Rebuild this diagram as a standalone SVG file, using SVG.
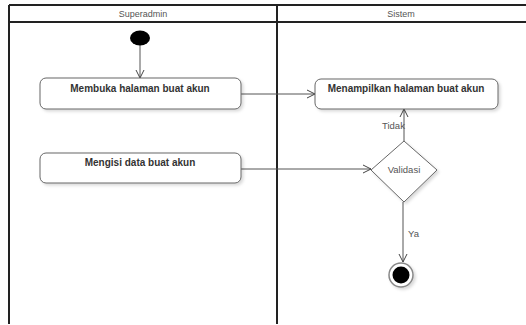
<svg xmlns="http://www.w3.org/2000/svg" width="526" height="325" viewBox="0 0 526 325">
<defs>
<marker id="arr" markerWidth="10" markerHeight="10" refX="9" refY="5" orient="auto" markerUnits="userSpaceOnUse">
<path d="M1,1 L9,5 L1,9" fill="none" stroke="#444" stroke-width="1"/>
</marker>
<filter id="sh" x="-10%" y="-10%" width="130%" height="150%">
<feDropShadow dx="2" dy="2" stdDeviation="1.5" flood-color="#000" flood-opacity="0.15"/>
</filter>
</defs>
<style>
.lane{fill:none;stroke:#222;stroke-width:2}
.hdr{font-family:"Liberation Sans",Arial,sans-serif;font-size:9px;fill:#555;text-anchor:middle}
.act{fill:#fff;stroke:#666;stroke-width:1;filter:url(#sh)}
.at{font-family:"Liberation Sans",Arial,sans-serif;font-size:10px;font-weight:bold;fill:#333;text-anchor:middle}
.con{fill:none;stroke:#555;stroke-width:1;marker-end:url(#arr)}
.lbl{font-family:"Liberation Sans",Arial,sans-serif;font-size:9.5px;fill:#555}
</style>
<rect width="526" height="325" fill="#fff"/>
<g id="swimlanes">
<line x1="9" y1="5" x2="530" y2="5" class="lane" stroke-width="1.5"/>
<line x1="9" y1="22" x2="530" y2="22" class="lane" stroke-width="1.5"/>
<line x1="9" y1="5" x2="9" y2="324" class="lane"/>
<line x1="277" y1="5" x2="277" y2="324" class="lane"/>
<text x="143" y="17" class="hdr">Superadmin</text>
<text x="401" y="17" class="hdr">Sistem</text>
</g>
<g id="connectors">
<line x1="140" y1="45" x2="140" y2="78" class="con"/>
<line x1="241" y1="94" x2="315" y2="94" class="con"/>
<line x1="241" y1="169" x2="371" y2="169" class="con"/>
<line x1="404" y1="141" x2="404" y2="109" class="con"/>
<text x="382" y="129" class="lbl">Tidak</text>
<line x1="403" y1="202" x2="403" y2="262" class="con"/>
<text x="408" y="237" class="lbl">Ya</text>
</g>
<g id="start">
<ellipse cx="140" cy="38" rx="10" ry="7.5" fill="#000"/>
</g>
<g id="membuka">
<rect x="40" y="78" width="201" height="31" rx="6" class="act"/>
<text x="140" y="92" class="at">Membuka halaman buat akun</text>
</g>
<g id="mengisi">
<rect x="40" y="153" width="201" height="30" rx="6" class="act"/>
<text x="140" y="166" class="at">Mengisi data buat akun</text>
</g>
<g id="menampilkan">
<rect x="315" y="79" width="183" height="30" rx="6" class="act"/>
<text x="406" y="92" class="at">Menampilkan halaman buat akun</text>
</g>
<g id="validasi">
<polygon points="404,141 437,170 404,202 371,170" fill="#fff" stroke="#666" stroke-width="1" filter="url(#sh)"/>
<text x="404" y="173" class="lbl" text-anchor="middle" fill="#777">Validasi</text>
</g>
<g id="end">
<circle cx="401" cy="275" r="12" fill="#fff" stroke="#888" stroke-width="1.5" filter="url(#sh)"/>
<circle cx="401" cy="275" r="8.5" fill="#000"/>
</g>
</svg>
